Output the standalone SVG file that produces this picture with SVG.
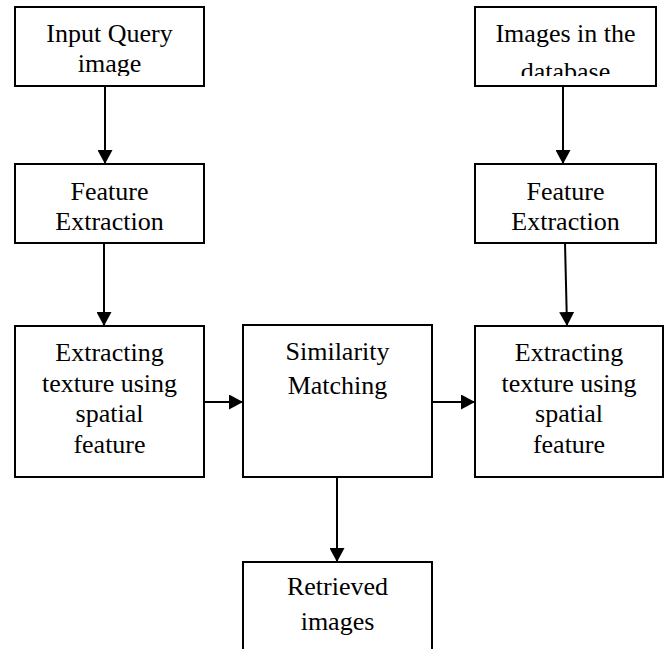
<svg xmlns="http://www.w3.org/2000/svg" width="668" height="649" viewBox="0 0 668 649">
<style>
.box{fill:#fff;stroke:#000;stroke-width:2}
.t{font-family:'Liberation Serif','Times New Roman',serif;font-size:26px;fill:#000;text-anchor:middle}
.c{stroke:#000;stroke-width:2;fill:none}
</style>
<defs>
<marker id="ah" viewBox="0 0 14 15" refX="14" refY="7.5" markerWidth="14" markerHeight="15" markerUnits="userSpaceOnUse" orient="auto">
<path d="M0,0 L14,7.5 L0,15 Z" fill="#000"/>
</marker>
<clipPath id="clip1"><rect x="15" y="7" width="189" height="69"/></clipPath>
<clipPath id="clip2"><rect x="475" y="7" width="181" height="69"/></clipPath>
</defs>
<rect width="668" height="649" fill="#fff"/>
<g id="connectors">
<line class="c" x1="105" y1="86" x2="105" y2="164" marker-end="url(#ah)"/>
<line class="c" x1="104" y1="243" x2="104" y2="326" marker-end="url(#ah)"/>
<line class="c" x1="563" y1="86" x2="563" y2="164" marker-end="url(#ah)"/>
<line class="c" x1="565" y1="243" x2="567" y2="326" marker-end="url(#ah)"/>
<line class="c" x1="204" y1="402" x2="243" y2="402" marker-end="url(#ah)"/>
<line class="c" x1="432" y1="402" x2="475" y2="402" marker-end="url(#ah)"/>
<line class="c" x1="337" y1="477" x2="337" y2="562" marker-end="url(#ah)"/>
</g>
<g id="input-query">
<rect class="box" x="15" y="7" width="189" height="79"/>
<g clip-path="url(#clip1)">
<text class="t" x="109.5" y="42">Input Query</text>
<text class="t" x="109.5" y="72">image</text>
</g>
</g>
<g id="feature-left">
<rect class="box" x="15" y="164" width="189" height="79"/>
<text class="t" x="109.5" y="200">Feature</text>
<text class="t" x="109.5" y="230">Extraction</text>
</g>
<g id="db-images">
<rect class="box" x="475" y="7" width="181" height="79"/>
<g clip-path="url(#clip2)">
<text class="t" x="565.5" y="42">Images in the</text>
<text class="t" x="565.5" y="80">database</text>
</g>
</g>
<g id="feature-right">
<rect class="box" x="475" y="164" width="181" height="79"/>
<text class="t" x="565.5" y="200">Feature</text>
<text class="t" x="565.5" y="230">Extraction</text>
</g>
<g id="texture-left">
<rect class="box" x="15" y="326" width="189" height="151"/>
<text class="t" x="109.5" y="361">Extracting</text>
<text class="t" x="109.5" y="391.5">texture using</text>
<text class="t" x="109.5" y="422">spatial</text>
<text class="t" x="109.5" y="452.5">feature</text>
</g>
<g id="similarity">
<rect class="box" x="243" y="325" width="189" height="152"/>
<text class="t" x="337.5" y="360">Similarity</text>
<text class="t" x="337.5" y="394">Matching</text>
</g>
<g id="texture-right">
<rect class="box" x="475" y="326" width="188" height="151"/>
<text class="t" x="569" y="361">Extracting</text>
<text class="t" x="569" y="391.5">texture using</text>
<text class="t" x="569" y="422">spatial</text>
<text class="t" x="569" y="452.5">feature</text>
</g>
<g id="retrieved">
<rect class="box" x="243" y="562" width="189" height="100"/>
<text class="t" x="337.5" y="595">Retrieved</text>
<text class="t" x="337.5" y="630">images</text>
</g>
</svg>
